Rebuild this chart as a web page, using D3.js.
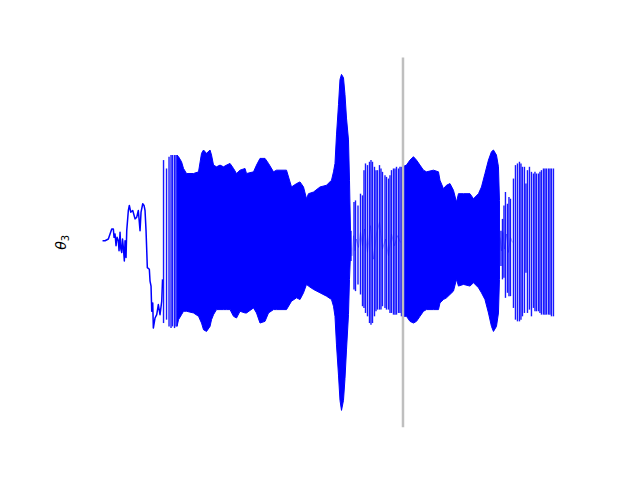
<!DOCTYPE html>
<html>
<head>
<meta charset="utf-8">
<script src="https://cdn.jsdelivr.net/npm/d3@7"></script>
<style>
  html, body { margin: 0; padding: 0; background: #fff; }
  svg { display: block; }
</style>
</head>
<body>
<svg id="chart" width="640" height="480"></svg>
<script>
// ---------- data ----------
// slow wandering start
const wanderT = [0, 2.5, 5.8, 9.2, 10.8, 11.5, 12.5, 13.5, 14.5, 15.8, 16.5, 17.5, 18.3, 19.2, 20, 20.8, 21.8, 22.5, 23.5,
  24.2, 25.8, 26.8, 28.2, 30.2, 32.5, 34.2, 35.8, 37.5, 38.5, 40.2, 41.5, 42.5, 43.5, 44.8, 46.8, 47.5, 48.5,
  49.2, 50.2, 50.8, 52.5, 54.2, 55.8, 57.5, 59.2, 60];
const wanderV = [0.01, 0.01, 0.02, 0.08, 0.08, 0.03, 0.05, -0.02, 0.03, 0.01, -0.05, 0.06, -0.04, -0.06, 0.02, -0.03, -0.11, 0.01, -0.09,
  0.07, 0.19, 0.22, 0.18, 0.19, 0.14, 0.15, 0.19, 0.07, 0.18, 0.23, 0.22, 0.19, 0.07, -0.15, -0.16, -0.23, -0.26,
  -0.41, -0.36, -0.51, -0.45, -0.43, -0.37, -0.43, -0.35, -0.22];

// first dense oscillation burst: envelope
const env1T = [74.5, 76, 79, 81, 84, 91, 96, 99, 101, 104, 107.5, 109, 111, 114, 117.5, 121, 124, 127.5, 131, 134, 137.5,
  142.5, 144, 151, 154, 157.5, 162.5, 166, 171, 174, 184, 189, 194, 197.5, 201, 204, 206, 211, 217.5, 224, 229,
  231, 232.5, 234, 236, 237.5, 239, 241, 242.5, 244, 246, 247, 248];
const env1Hi = [0.52, 0.51, 0.48, 0.44, 0.41, 0.41, 0.42, 0.53, 0.55, 0.53, 0.55, 0.52, 0.46, 0.45, 0.46, 0.45, 0.46, 0.47, 0.44, 0.41, 0.43,
  0.44, 0.41, 0.42, 0.46, 0.50, 0.50, 0.47, 0.42, 0.43, 0.43, 0.33, 0.35, 0.36, 0.33, 0.26, 0.29, 0.30, 0.33, 0.34, 0.37,
  0.42, 0.47, 0.64, 0.82, 0.97, 1.00, 0.98, 0.88, 0.74, 0.61, 0.37, 0.07];
const env1Lo = [-0.50, -0.46, -0.43, -0.41, -0.41, -0.42, -0.44, -0.48, -0.52, -0.53, -0.50, -0.46, -0.43, -0.40, -0.40, -0.40, -0.40, -0.40, -0.44, -0.45, -0.41,
  -0.42, -0.42, -0.39, -0.42, -0.48, -0.47, -0.42, -0.40, -0.40, -0.40, -0.35, -0.33, -0.34, -0.30, -0.25, -0.26, -0.28, -0.30, -0.32, -0.34,
  -0.38, -0.44, -0.61, -0.79, -0.94, -1.00, -0.94, -0.81, -0.64, -0.43, -0.22, -0.07];

// second dense burst: envelope
const env2T = [300, 304, 307.5, 311, 314, 317.5, 321, 324, 331, 336, 337.5, 341, 344, 347.5, 351, 354, 356, 361, 367.5, 371,
  376, 379, 382.5, 386, 389, 391, 394, 396, 397];
const env2Hi = [0.45, 0.46, 0.49, 0.51, 0.49, 0.46, 0.43, 0.42, 0.43, 0.42, 0.37, 0.32, 0.34, 0.35, 0.31, 0.24, 0.29, 0.29, 0.29, 0.26,
  0.29, 0.33, 0.41, 0.49, 0.54, 0.55, 0.52, 0.45, 0.25];
const env2Lo = [-0.44, -0.44, -0.47, -0.48, -0.47, -0.44, -0.41, -0.40, -0.40, -0.40, -0.36, -0.34, -0.33, -0.31, -0.29, -0.22, -0.26, -0.25, -0.26, -0.24,
  -0.27, -0.30, -0.34, -0.42, -0.50, -0.53, -0.50, -0.42, -0.22];

// isolated swings (sparse parts)
const spikeT = [61, 64, 66.5, 68.5, 70, 72, 73.5,
  248.5, 251.5, 253, 255.5, 258, 260, 261.5, 263, 265, 267, 268.5, 270, 272, 273.5, 275, 277, 278.5, 280, 282.5, 284,
  286, 287.5, 289, 291, 292.5, 294, 296, 297.5, 299,
  398.5, 400, 401.5, 403, 405, 406.5, 408, 411, 413, 415, 417, 418.5, 420, 422, 423.5, 425, 427, 429, 431, 432.5,
  434, 436, 437.5, 439, 441, 442.5, 444, 446, 447.5, 449, 451];
const spikeHi = [0.49, 0.44, 0.51, 0.52, 0.52, 0.52, 0.52,
  0.07, 0.24, 0.25, 0.22, 0.29, 0.28, 0.43, 0.47, 0.46, 0.48, 0.49, 0.48, 0.45, 0.43, 0.43, 0.46, 0.44, 0.42, 0.40, 0.39,
  0.38, 0.40, 0.43, 0.44, 0.44, 0.45, 0.44, 0.45, 0.45,
  0.07, 0.14, 0.22, 0.30, 0.23, 0.27, 0.26, 0.38, 0.46, 0.47, 0.48, 0.47, 0.45, 0.45, 0.35, 0.43, 0.45, 0.42, 0.41, 0.42,
  0.41, 0.41, 0.42, 0.43, 0.44, 0.44, 0.44, 0.44, 0.44, 0.44, 0.44];
const spikeLo = [-0.48, -0.46, -0.50, -0.51, -0.50, -0.51, -0.50,
  -0.11, -0.28, -0.29, -0.25, -0.31, -0.38, -0.39, -0.42, -0.44, -0.48, -0.49, -0.48, -0.44, -0.41, -0.40, -0.40, -0.40, -0.38, -0.39, -0.40,
  -0.40, -0.42, -0.42, -0.43, -0.43, -0.43, -0.42, -0.42, -0.44,
  -0.14, -0.22, -0.21, -0.33, -0.30, -0.32, -0.32, -0.39, -0.46, -0.47, -0.47, -0.46, -0.44, -0.42, -0.18, -0.42, -0.40, -0.44, -0.39, -0.41,
  -0.41, -0.41, -0.42, -0.43, -0.43, -0.43, -0.43, -0.43, -0.43, -0.44, -0.44];

// low-level residual between swings
const noiseT = [248, 249.5, 251, 252.5, 254, 256, 258, 260, 262, 265, 268, 271, 274, 277, 280, 283, 286, 289, 292, 295, 298,
  null,
  397.5, 399, 400.5, 402, 404, 406, 408, 410];
const noiseV = [0.05, -0.08, 0.04, -0.05, 0.02, -0.03, 0.06, -0.02, 0.08, -0.06, 0.10, -0.10, 0.05, 0.12, -0.04, 0.02, -0.08, 0.05, -0.02, 0.04, 0.0,
  null,
  0.03, -0.05, 0.06, -0.04, 0.05, -0.06, 0.03, 0.0];

const markerT = 300.5;
const yLabel = "θ";
const yLabelSub = "3";

// ---------- layout ----------
const W = 640, H = 480;
const ax = { left: 80, right: 576, top: 57.6, bottom: 427.2 };
const tMin = 0, tMax = 451, vMin = -1, vMax = 1;
const mx = (tMax - tMin) * 0.05, my = (vMax - vMin) * 0.05;

const x = d3.scaleLinear().domain([tMin - mx, tMax + mx]).range([ax.left, ax.right]);
const y = d3.scaleLinear().domain([vMin - my, vMax + my]).range([ax.bottom, ax.top]);

const svg = d3.select("#chart");
const blue = "#0000ff";

// wander line
const wander = wanderT.map((t, i) => [t, wanderV[i]]);
svg.append("path")
  .attr("d", d3.line().x(d => x(d[0])).y(d => y(d[1]))(wander))
  .attr("fill", "none").attr("stroke", blue).attr("stroke-width", 1.5)
  .attr("stroke-linejoin", "round");

// residual noise
const noise = noiseT.map((t, i) => [t, noiseV[i]]);
svg.append("path")
  .attr("d", d3.line().defined(d => d[0] !== null).x(d => x(d[0])).y(d => y(d[1]))(noise))
  .attr("fill", "none").attr("stroke", blue).attr("stroke-width", 0.6).attr("opacity", 0.55);

// spikes
svg.append("g").selectAll("line")
  .data(spikeT.map((t, i) => ({ t, hi: spikeHi[i], lo: spikeLo[i] })))
  .join("line")
  .attr("x1", d => x(d.t)).attr("x2", d => x(d.t))
  .attr("y1", d => y(d.hi)).attr("y2", d => y(d.lo))
  .attr("stroke", blue).attr("stroke-width", 1.4).attr("opacity", 0.9);

// dense envelopes
const area = d3.area().x(d => x(d.t)).y0(d => y(d.lo)).y1(d => y(d.hi));
[[env1T, env1Hi, env1Lo], [env2T, env2Hi, env2Lo]].forEach(([T, Hi, Lo]) => {
  svg.append("path")
    .attr("d", area(T.map((t, i) => ({ t, hi: Hi[i], lo: Lo[i] }))))
    .attr("fill", blue).attr("stroke", blue).attr("stroke-width", 1);
});

// marker line
svg.append("line")
  .attr("x1", x(markerT)).attr("x2", x(markerT))
  .attr("y1", ax.top).attr("y2", ax.bottom)
  .attr("stroke", "#bfbfbf").attr("stroke-width", 2.5);

// y label
const lab = svg.append("text")
  .attr("transform", `translate(66,${(ax.top + ax.bottom) / 2}) rotate(-90)`)
  .attr("text-anchor", "middle")
  .attr("font-family", "DejaVu Sans")
  .attr("font-size", 14)
  .attr("fill", "#000");
lab.append("tspan").attr("font-style", "italic").text(yLabel);
lab.append("tspan").attr("font-size", 10).attr("dy", 3).text(yLabelSub);
</script>
</body>
</html>
